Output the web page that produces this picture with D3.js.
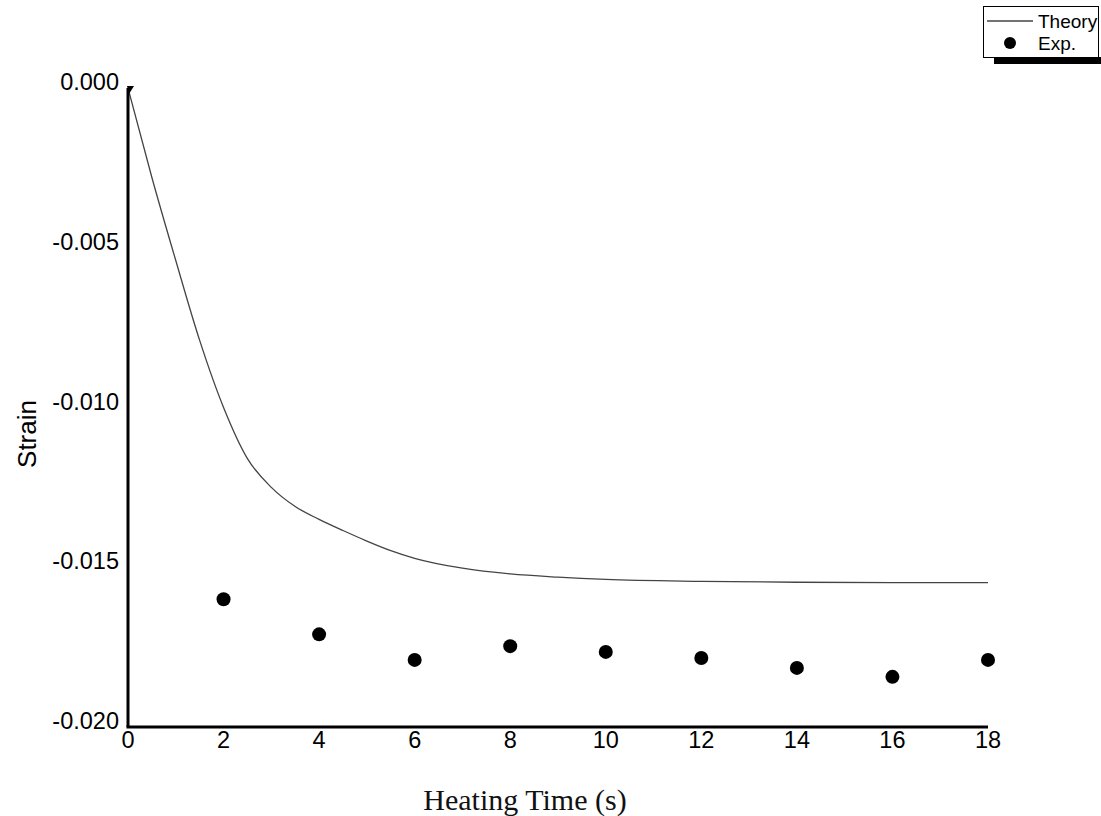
<!DOCTYPE html>
<html><head><meta charset="utf-8">
<script src="https://cdn.jsdelivr.net/npm/d3@7"></script>
<style>body{margin:0;background:#fff}</style>
</head><body>
<svg id="c" width="1101" height="816"></svg>
<script>
const xTicks = [0, 2, 4, 6, 8, 10, 12, 14, 16, 18];
const yTicks = [0, -0.005, -0.010, -0.015, -0.020];
const yTickLabels = ["0.000", "-0.005", "-0.010", "-0.015", "-0.020"];
const theoryTime = [0, 0.5, 1, 1.5, 2, 2.5, 3, 3.5, 4, 4.5, 5, 5.5, 6, 7, 8, 9, 10, 12, 14, 16, 18];
const theoryStrain = [0, -0.0028, -0.0054, -0.0079, -0.0100, -0.0116, -0.0125, -0.0131, -0.0135, -0.01385, -0.01418, -0.01448, -0.01472, -0.01503, -0.01521, -0.01531, -0.01538, -0.01544, -0.01547, -0.01548, -0.01548];
const expTime = [2, 4, 6, 8, 10, 12, 14, 16, 18];
const expStrain = [-0.0160, -0.0171, -0.0179, -0.01747, -0.01765, -0.01784, -0.01815, -0.01843, -0.0179];
const legendLabels = ["Theory", "Exp."];

const svg = d3.select("#c");
const x = d3.scaleLinear().domain([0, 18]).range([128, 988]);
const y = d3.scaleLinear().domain([-0.020, 0]).range([727, 88]);

// tick labels
svg.append("g").selectAll("text").data(yTicks).join("text")
  .attr("x", 119).attr("y", d => y(d) - 6)
  .attr("text-anchor", "end").attr("dominant-baseline", "central")
  .attr("font-family", "Liberation Sans, Arial, sans-serif").attr("font-size", 23.5)
  .text((d, i) => yTickLabels[i]);
svg.append("g").selectAll("text").data(xTicks).join("text")
  .attr("x", d => x(d)).attr("y", 740)
  .attr("text-anchor", "middle").attr("dominant-baseline", "central")
  .attr("font-family", "Liberation Sans, Arial, sans-serif").attr("font-size", 23.5)
  .text(d => d);

// theory line
const line = d3.line().x(d => x(d[0])).y(d => y(d[1])).curve(d3.curveMonotoneX);
svg.append("path").datum(theoryTime.map((t, i) => [t, theoryStrain[i]]))
  .attr("d", line).attr("fill", "none").attr("stroke", "#444").attr("stroke-width", 1.3);

// exp points
svg.append("g").selectAll("circle").data(expTime.map((t, i) => [t, expStrain[i]])).join("circle")
  .attr("cx", d => x(d[0])).attr("cy", d => y(d[1])).attr("r", 7).attr("fill", "#000");

// axes lines
svg.append("line").attr("x1", x(0)).attr("x2", x(0)).attr("y1", y(0)).attr("y2", y(-0.020))
  .attr("stroke", "#000").attr("stroke-width", 3);
svg.append("line").attr("x1", x(0) - 1.5).attr("x2", x(18)).attr("y1", y(-0.020)).attr("y2", y(-0.020))
  .attr("stroke", "#000").attr("stroke-width", 3);
// small marker at origin
const ox = x(0), oy = y(0);
svg.append("path").attr("d", `M${ox-1},${oy-2} L${ox+6},${oy-2} L${ox+1},${oy+6} Z`).attr("fill", "#000");

// axis titles
svg.append("text").attr("transform", "translate(36,434) rotate(-90)")
  .attr("text-anchor", "middle").attr("font-family", "Liberation Sans, Arial, sans-serif")
  .attr("font-size", 26).text("Strain");
svg.append("text").attr("x", 525).attr("y", 810).attr("text-anchor", "middle")
  .attr("font-family", "Liberation Serif, 'Times New Roman', serif").attr("font-size", 30)
  .attr("fill", "#111").text("Heating Time (s)");

// legend
const lg = svg.append("g");
lg.append("rect").attr("x", 994).attr("y", 57).attr("width", 107).attr("height", 7).attr("fill", "#000");
lg.append("rect").attr("x", 983.5).attr("y", 6.5).attr("width", 115).attr("height", 51)
  .attr("fill", "#fff").attr("stroke", "#000").attr("stroke-width", 1);
lg.append("line").attr("x1", 987).attr("x2", 1033).attr("y1", 21).attr("y2", 21).attr("stroke", "#444").attr("stroke-width", 1.3);
lg.append("circle").attr("cx", 1010).attr("cy", 43).attr("r", 6).attr("fill", "#000");
lg.selectAll("text").data(legendLabels).join("text")
  .attr("x", 1038).attr("y", (d, i) => 21 + i * 22).attr("dominant-baseline", "central")
  .attr("font-family", "Liberation Sans, Arial, sans-serif").attr("font-size", 19).text(d => d);
</script>
</body></html>
